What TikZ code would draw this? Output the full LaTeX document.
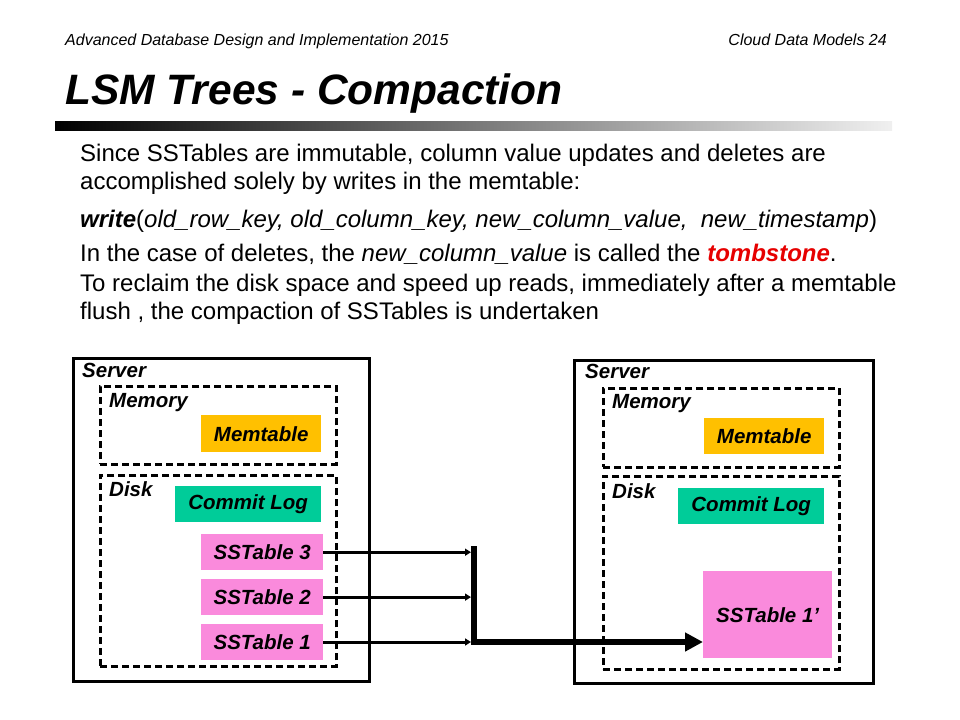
\documentclass[tikz,border=0pt]{standalone}
\usepackage{fontspec}
\setmainfont{Liberation Sans}
\usepackage{xcolor}
\usetikzlibrary{positioning, arrows.meta, calc}
\definecolor{memorange}{RGB}{255,192,0}
\definecolor{logteal}{RGB}{0,204,153}
\definecolor{sstpink}{RGB}{250,138,220}
\definecolor{tombred}{RGB}{230,0,0}
\tikzset{
  boxfont/.style={font=\fontsize{20.5bp}{24bp}\selectfont\bfseries\itshape},
  srvbox/.style={draw, line width=2.5bp, inner sep=0pt},
  dashbox/.style={draw, dash pattern=on 7bp off 4bp, line width=2.5bp, inner sep=0pt},
  memtab/.style={boxfont, fill=memorange, inner sep=0pt, minimum width=120bp, minimum height=37bp},
  logtab/.style={boxfont, fill=logteal, inner sep=0pt, minimum width=146bp, minimum height=36bp},
  sstab/.style={boxfont, fill=sstpink, inner sep=0pt, minimum width=122bp, minimum height=36bp},
  lbl/.style={boxfont, anchor=base west, inner sep=0pt},
  bodyline/.style={font=\fontsize{24bp}{28bp}\selectfont, anchor=base west, inner sep=0pt},
  hdr/.style={font=\fontsize{16bp}{19bp}\selectfont\itshape, inner sep=0pt},
  thinarrow/.style={line width=3bp, -{Triangle[length=6bp, width=7bp]}, shorten >=3bp},
  thickarrow/.style={line width=6bp, -{Triangle[length=18bp, width=18bp]}}
}
\begin{document}
\begin{tikzpicture}[x=1bp, y=-1bp]
  \useasboundingbox (0,0) rectangle (960,720);
  % header and title
  \node[hdr, anchor=base west] (hdrl) at (65,46) {Advanced Database Design and Implementation 2015};
  \node[hdr, anchor=base east] (hdrr) at (887,46) {Cloud Data Models 24};
  \node[font=\fontsize{42.5bp}{50bp}\selectfont\bfseries\itshape, anchor=base west, inner sep=0pt] (title) at (65,105) {LSM Trees - Compaction};
  \shade[left color=black, right color=gray!12] (55,122) rectangle (892,131);
  % text
  \node[bodyline] (l1) at (80,162) {Since SSTables are immutable, column value updates and deletes are};
  \node[bodyline] (l2) at (80,190) {accomplished solely by writes in the memtable:};
  \node[bodyline] (l3) at (80,227) {\textbf{\textit{write}}(\textit{old\_row\_key, old\_column\_key, new\_column\_value,\ \ new\_timestamp})};
  \node[bodyline] (l4) at (80,261) {In the case of deletes, the \textit{new\_column\_value} is called the \textcolor{tombred}{\textbf{\textit{tombstone}}}.};
  \node[bodyline] (l5) at (80,291) {To reclaim the disk space and speed up reads, immediately after a memtable};
  \node[bodyline] (l6) at (80,319) {flush , the compaction of SSTables is undertaken};
  % server before compaction
  \node[srvbox, minimum width=296bp, minimum height=323bp, anchor=north west] (srv1) at (72,357) {};
  \node[dashbox, minimum width=236bp, minimum height=78bp, anchor=north west] (mem1) at (99,385) {};
  \node[dashbox, minimum width=236bp, minimum height=191bp, anchor=north west] (disk1) at (99,474) {};
  \node[lbl] (srvl1) at (82,377) {Server};
  \node[lbl] (meml1) at (109,407) {Memory};
  \node[lbl] (diskl1) at (109,496) {Disk};
  \node[memtab, anchor=north west] (memt1) at (201,415) {Memtable};
  \node[logtab, anchor=north west] (log1) at (175,486) {Commit Log};
  \node[sstab, anchor=north west] (sst3) at (201,534) {SSTable 3};
  \node[sstab, below=8.5bp of sst3] (sst2) {SSTable 2};
  \node[sstab, below=8.5bp of sst2] (sst1) {SSTable 1};
  % server after compaction
  \node[srvbox, minimum width=299bp, minimum height=323bp, anchor=north west] (srv2) at (573,359) {};
  \node[dashbox, minimum width=236bp, minimum height=79bp, anchor=north west] (mem2) at (602,387) {};
  \node[dashbox, minimum width=236bp, minimum height=193bp, anchor=north west] (disk2) at (602,475) {};
  \node[lbl] (srvl2) at (585,378) {Server};
  \node[lbl] (meml2) at (612,408) {Memory};
  \node[lbl] (diskl2) at (612,498) {Disk};
  \node[memtab, minimum height=36bp, anchor=north west] (memt2) at (704,418) {Memtable};
  \node[logtab, anchor=north west] (log2) at (678,488) {Commit Log};
  \node[sstab, minimum width=129bp, minimum height=87bp, anchor=north west] (sst1p) at (703,571) {SSTable 1'};
  % compaction
  \coordinate (bartop) at (474,546);
  \foreach \s in {sst3,sst2,sst1}
    \draw[thinarrow] (\s.east) -- (\s.east -| bartop);
  \draw[thickarrow] (bartop) -- (bartop |- sst1.east) -- (sst1p.west |- sst1.east);
\end{tikzpicture}
\end{document}
